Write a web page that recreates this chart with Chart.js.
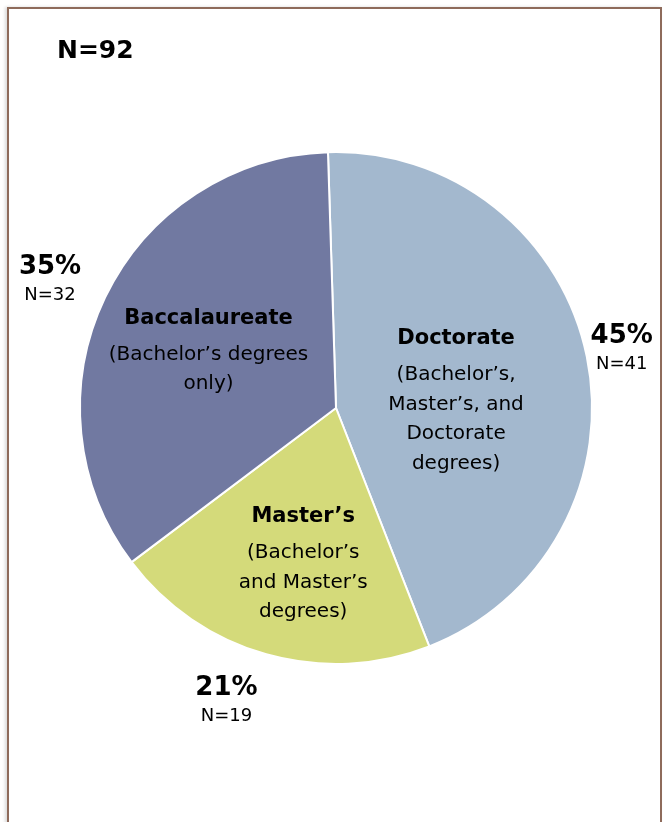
<!DOCTYPE html>
<html>
<head>
<meta charset="utf-8">
<script src="https://cdn.jsdelivr.net/npm/chart.js@4"></script>
<style>
  html, body { margin: 0; padding: 0; background: #fff; }
  #wrap { position: relative; width: 664px; height: 822px; overflow: hidden; }
  #frame { position: absolute; left: 7px; top: 7px; width: 651px; height: 830px;
           border: 2px solid #8E6B5B; box-shadow: -2px 0 3px rgba(0,0,0,0.15); }
  #c { position: absolute; left: 0; top: 0; }
</style>
</head>
<body>
<div id="wrap">
  <div id="frame"></div>
  <canvas id="c" width="664" height="822"></canvas>
</div>
<script>
const categories = ["Doctorate", "Master\u2019s", "Baccalaureate"];
const counts = [41, 19, 32];
const percents = ["45%", "21%", "35%"];
const totalLabel = "N=92";
const descriptions = [
  ["(Bachelor\u2019s,", "Master\u2019s, and", "Doctorate", "degrees)"],
  ["(Bachelor\u2019s", "and Master\u2019s", "degrees)"],
  ["(Bachelor\u2019s degrees", "only)"]
];
const colors = ["#A3B8CE", "#D4DA7A", "#7179A1"];

// label layout: offsets from pie centre in units of radius
const insideLayout = [ {dx: 0.469, dy: -0.27}, {dx: -0.128, dy: 0.425}, {dx: -0.498, dy: -0.35} ];
const outsideLayout = [ {dx: 1.116, dy: -0.28}, {dx: -0.428, dy: 1.095}, {dx: -1.117, dy: -0.55} ];

const FONT = '"DejaVu Sans", Verdana, sans-serif';

const labelPlugin = {
  id: 'labels',
  afterDraw(chart) {
    const ctx = chart.ctx;
    const arc = chart.getDatasetMeta(0).data[0];
    const cx = arc.x, cy = arc.y, r = arc.outerRadius;
    ctx.save();
    ctx.fillStyle = '#000';
    ctx.textAlign = 'center';
    ctx.textBaseline = 'middle';
    categories.forEach((name, i) => {
      const L = insideLayout[i];
      let x = cx + L.dx * r, y = cy + L.dy * r;
      ctx.font = 'bold 21px ' + FONT;
      ctx.fillText(name, x, y);
      y += 36;
      ctx.font = '20px ' + FONT;
      descriptions[i].forEach(line => { ctx.fillText(line, x, y); y += 29.5; });
      const O = outsideLayout[i];
      const ox = cx + O.dx * r, oy = cy + O.dy * r;
      ctx.font = 'bold 26px ' + FONT;
      ctx.fillText(percents[i], ox, oy);
      ctx.font = '18px ' + FONT;
      ctx.fillText('N=' + counts[i], ox, oy + 28);
    });
    ctx.textAlign = 'left';
    ctx.font = 'bold 25px ' + FONT;
    ctx.fillText(totalLabel, 57, 51);
    ctx.restore();
  }
};

new Chart(document.getElementById('c'), {
  type: 'pie',
  data: {
    labels: categories,
    datasets: [{ data: counts, backgroundColor: colors, borderColor: '#ffffff', borderWidth: 2 }]
  },
  options: {
    responsive: false,
    animation: false,
    rotation: -1.8,
    layout: { padding: { left: 79, top: 151, right: 71, bottom: 157 } },
    plugins: { legend: { display: false }, tooltip: { enabled: false } }
  },
  plugins: [labelPlugin]
});
</script>
</body>
</html>
